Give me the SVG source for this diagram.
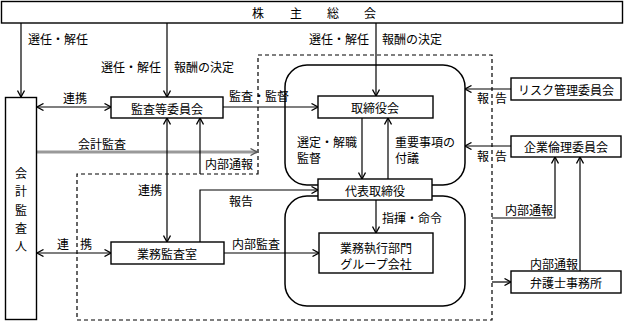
<svg xmlns="http://www.w3.org/2000/svg" width="625" height="322" viewBox="0 0 625 322">
<defs>
<marker id="ah" viewBox="0 0 8 8" refX="7.5" refY="4" markerWidth="8" markerHeight="8" markerUnits="userSpaceOnUse" orient="auto-start-reverse">
<path d="M1,0.5 L7.5,4 L1,7.5" fill="none" stroke="#000" stroke-width="1.3"/>
</marker>
<marker id="ahg" viewBox="0 0 8 8" refX="7.5" refY="4" markerWidth="8" markerHeight="8" markerUnits="userSpaceOnUse" orient="auto">
<path d="M1,0.5 L7.5,4 L1,7.5" fill="none" stroke="#555" stroke-width="1.3"/>
</marker>
</defs>
<style>
text{font-family:"Noto Sans CJK JP","Noto Sans CJK SC",sans-serif;font-size:12px;fill:#000;dominant-baseline:central}
.c{text-anchor:middle}
.e{text-anchor:end}
.box{fill:#fff;stroke:#000;stroke-width:1.4}
.rr{fill:none;stroke:#000;stroke-width:1.5}
.dash{fill:none;stroke:#000;stroke-width:1.2;stroke-dasharray:4 3}
.ln{fill:none;stroke:#000;stroke-width:1.2}
.a{marker-end:url(#ah)}
.b{marker-start:url(#ah);marker-end:url(#ah)}
</style>

<g id="range">
<path class="dash" d="M258,174 L258,55 L492,55 L492,320 L77,320 L77,174 Z"/>
</g>
<g id="board-area">
<rect class="rr" x="285" y="65" width="180" height="120" rx="22"/>
<rect class="rr" x="285" y="196" width="180" height="110" rx="22"/>
</g>

<g id="connectors">
<line class="ln a" x1="21" y1="23" x2="21" y2="97"/>
<line class="ln a" x1="167" y1="23" x2="167" y2="97"/>
<line class="ln a" x1="376" y1="23" x2="376" y2="96"/>
<line class="ln b" x1="37" y1="107" x2="111" y2="107"/>
<line class="ln a" x1="223" y1="107" x2="318" y2="107"/>
<line x1="37" y1="152" x2="257" y2="152" stroke="#999" stroke-width="3" marker-end="url(#ahg)"/>
<line class="ln a" x1="200" y1="174" x2="200" y2="118"/>
<line class="ln b" x1="167" y1="118" x2="167" y2="242"/>
<path class="ln a" d="M200,242 L200,190 L318,190"/>
<line class="ln b" x1="37" y1="253" x2="111" y2="253"/>
<line class="ln a" x1="224" y1="253" x2="319" y2="253"/>
<line class="ln a" x1="362" y1="118" x2="362" y2="179"/>
<line class="ln a" x1="388" y1="179" x2="388" y2="118"/>
<line class="ln a" x1="376" y1="200" x2="376" y2="233"/>
<line class="ln a" x1="511" y1="89" x2="465" y2="89"/>
<line class="ln a" x1="511" y1="146" x2="465" y2="146"/>
<line class="ln a" x1="492" y1="282" x2="511" y2="282"/>
<path class="ln a" d="M492,218 L555,218 L555,157"/>
<line class="ln a" x1="580" y1="271" x2="580" y2="157"/>
</g>

<g id="kabunushi">
<rect class="box" x="1.5" y="1.5" width="621" height="21.5"/>
<text class="c" x="258" y="12">株</text>
<text class="c" x="296" y="12">主</text>
<text class="c" x="333" y="12">総</text>
<text class="c" x="370" y="12">会</text>
</g>
<g id="kaikei">
<rect class="box" x="5.5" y="97.5" width="31" height="222"/>
<text class="c" x="21" y="172">会</text>
<text class="c" x="21" y="190">計</text>
<text class="c" x="21" y="209">監</text>
<text class="c" x="21" y="227">査</text>
<text class="c" x="21" y="245">人</text>
</g>
<g id="kansa-iinkai">
<rect class="box" x="111" y="97" width="112" height="21"/>
<text class="c" x="167" y="108">監査等委員会</text>
</g>
<g id="torishimariyakukai">
<rect class="box" x="318" y="96" width="115" height="22"/>
<text class="c" x="375" y="107">取締役会</text>
</g>
<g id="daihyo">
<rect class="box" x="318" y="179" width="114" height="21"/>
<text class="c" x="375" y="190">代表取締役</text>
</g>
<g id="gyomu-kansa">
<rect class="box" x="111" y="242" width="113" height="22"/>
<text class="c" x="167" y="253">業務監査室</text>
</g>
<g id="gyomu-shikko">
<rect class="box" x="319" y="233" width="114" height="40"/>
<text class="c" x="376" y="247">業務執行部門</text>
<text class="c" x="376" y="263">グループ会社</text>
</g>
<g id="risk">
<rect class="box" x="511" y="78" width="110" height="22"/>
<text class="c" x="566" y="89">リスク管理委員会</text>
</g>
<g id="rinri">
<rect class="box" x="511" y="136" width="110" height="21"/>
<text class="c" x="566" y="146">企業倫理委員会</text>
</g>
<g id="bengoshi">
<rect class="box" x="511" y="271" width="110" height="22"/>
<text class="c" x="566" y="282">弁護士事務所</text>
</g>

<g id="labels">
<text x="28" y="38">選任・解任</text>
<text class="e" x="161" y="66">選任・解任</text>
<text x="174" y="66">報酬の決定</text>
<text class="e" x="369" y="38">選任・解任</text>
<text x="382" y="38">報酬の決定</text>
<text class="c" x="75" y="97">連携</text>
<text x="229" y="95">監査・監督</text>
<text x="78" y="143">会計監査</text>
<text x="205" y="163">内部通報</text>
<text x="138" y="189">連携</text>
<text x="297" y="141">選定・解職</text>
<text x="297" y="157">監督</text>
<text x="395" y="141">重要事項の</text>
<text x="395" y="157">付議</text>
<text class="c" x="241" y="200">報告</text>
<text x="382" y="217">指揮・命令</text>
<text class="c" x="63" y="243">連</text>
<text class="c" x="86" y="243">携</text>
<text x="232" y="243">内部監査</text>
<text class="c" x="483" y="97">報</text>
<text class="c" x="501" y="97">告</text>
<text class="c" x="483" y="155">報</text>
<text class="c" x="501" y="155">告</text>
<text x="505" y="209">内部通報</text>
<text x="530" y="263">内部通報</text>
</g>
</svg>
